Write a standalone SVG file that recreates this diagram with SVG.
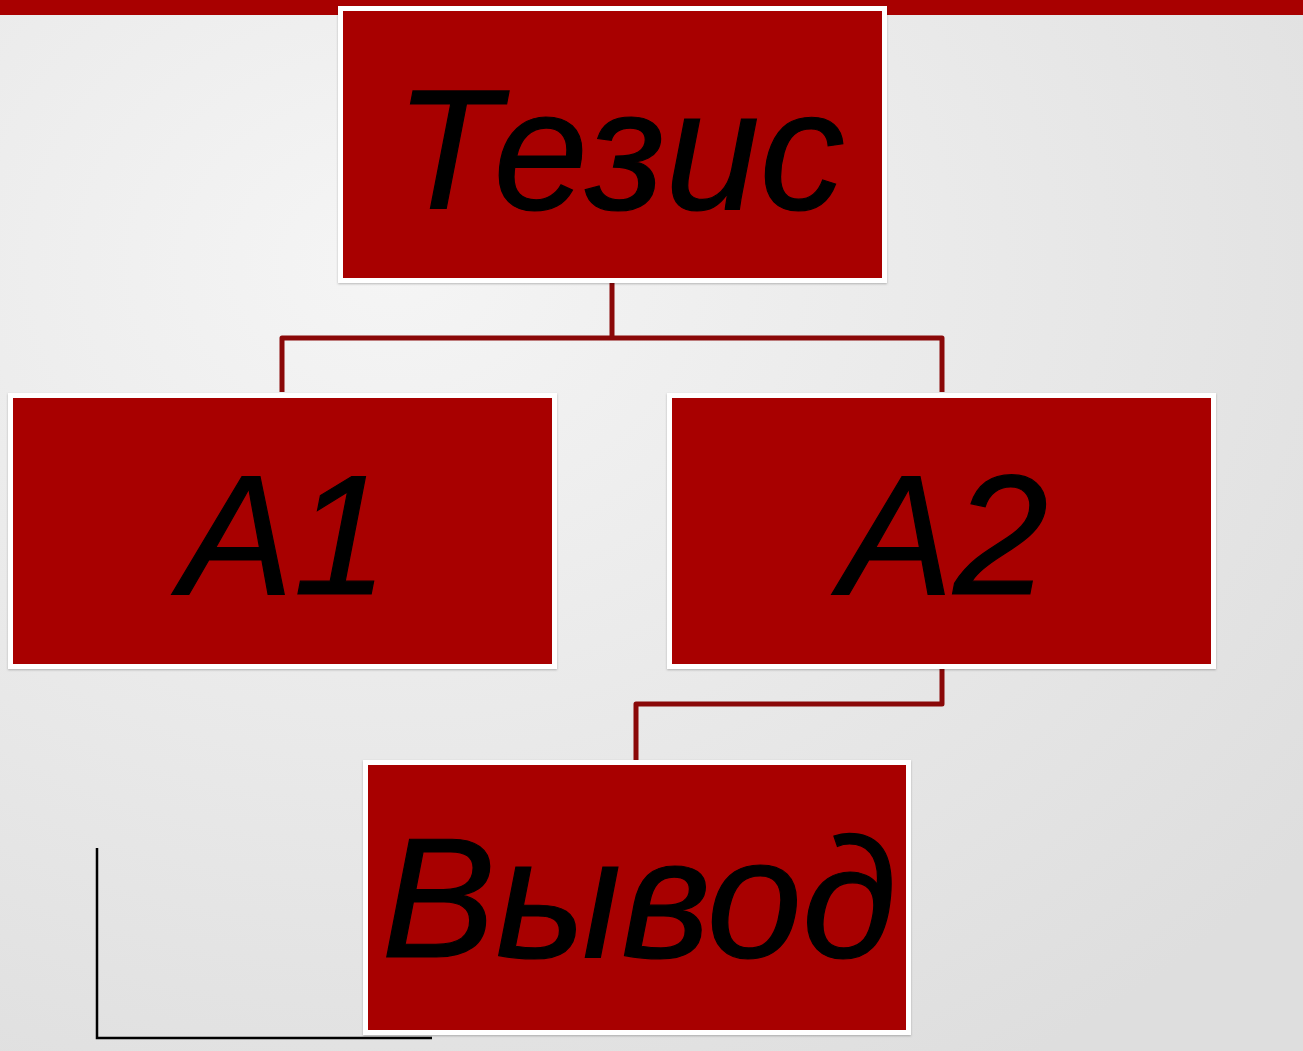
<svg xmlns="http://www.w3.org/2000/svg" width="1303" height="1051" viewBox="0 0 1303 1051">
<style>
.box{fill:#a80000;stroke:#ffffff;stroke-width:5}
.lbl{font-family:"Liberation Sans",Arial,sans-serif;font-style:italic;fill:#000;text-anchor:middle;stroke:#000;stroke-width:1.2}
.conn{fill:none;stroke:#8a0808;stroke-width:5;stroke-linejoin:round}
</style>
<defs>
<radialGradient id="bg" cx="0.3" cy="0.25" r="0.9">
<stop offset="0" stop-color="#f5f5f5"/>
<stop offset="1" stop-color="#dedede"/>
</radialGradient>
<filter id="sh" x="-5%" y="-5%" width="110%" height="110%">
<feDropShadow dx="0" dy="1" stdDeviation="1" flood-color="#000" flood-opacity="0.25"/>
</filter>
</defs>
<rect x="0" y="0" width="1303" height="1051" fill="url(#bg)"/>
<rect x="0" y="0" width="1303" height="15" fill="#a80000"/>
<g id="connectors">
<path class="conn" d="M612,283 V338 M282,392 V338 H942 V392"/>
<path class="conn" d="M942,668 V704 H636 V760"/>
</g>
<g id="node-tezis">
<rect class="box" filter="url(#sh)" x="340.5" y="8.5" width="544" height="272"/>
<text class="lbl" x="620" y="209" font-size="170">Тезис</text>
</g>
<g id="node-a1">
<rect class="box" filter="url(#sh)" x="10.5" y="395.5" width="544" height="271"/>
<text class="lbl" x="284" y="594" font-size="170">A1</text>
</g>
<g id="node-a2">
<rect class="box" filter="url(#sh)" x="669.5" y="395.5" width="544" height="271"/>
<text class="lbl" x="944" y="594" font-size="170">A2</text>
</g>
<g id="node-vyvod">
<rect class="box" filter="url(#sh)" x="365.5" y="762.5" width="543" height="270"/>
<text class="lbl" x="639" y="957" font-size="171">Вывод</text>
</g>
<path d="M97,848 V1038 H432" fill="none" stroke="#000" stroke-width="2.5"/>
</svg>
